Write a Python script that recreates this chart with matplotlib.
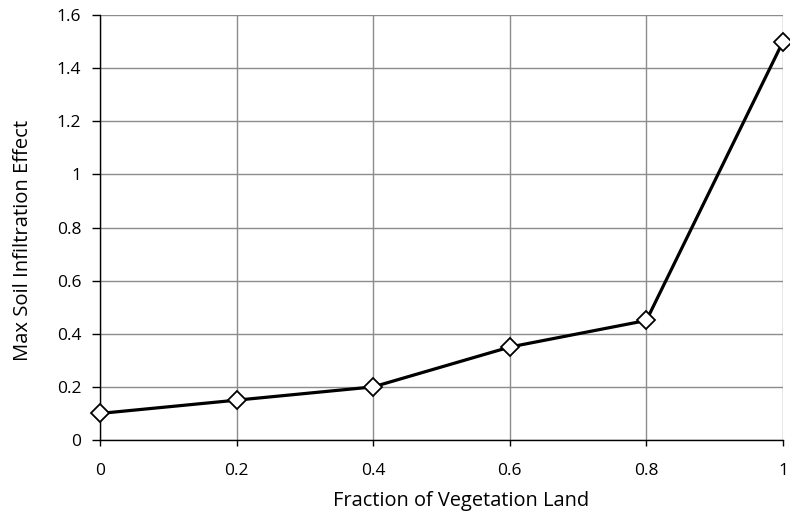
import matplotlib
matplotlib.use("Agg")
import matplotlib.pyplot as plt

fraction = [0, 0.2, 0.4, 0.6, 0.8, 1.0]
effect = [0.1, 0.15, 0.2, 0.35, 0.45, 1.5]
x_ticks = [0, 0.2, 0.4, 0.6, 0.8, 1]
x_labels = ["0", "0.2", "0.4", "0.6", "0.8", "1"]
y_ticks = [0, 0.2, 0.4, 0.6, 0.8, 1.0, 1.2, 1.4, 1.6]
y_labels = ["0", "0.2", "0.4", "0.6", "0.8", "1", "1.2", "1.4", "1.6"]

plt.rcParams['font.family'] = ['Open Sans', 'DejaVu Sans']

fig = plt.figure(figsize=(7.9, 5.14), dpi=100)
ax = fig.add_axes([100/790, 1-440/514, 683/790, 425/514])

ax.plot(fraction, effect, color='black', linewidth=2.3, marker='D', markersize=9,
        markerfacecolor='white', markeredgecolor='black', markeredgewidth=1.3,
        clip_on=False, zorder=3)

ax.set_xlim(0, 1)
ax.set_ylim(0, 1.6)
ax.set_xticks(x_ticks)
ax.set_xticklabels(x_labels)
ax.set_yticks(y_ticks)
ax.set_yticklabels(y_labels)
ax.grid(True, color='#8c8c8c', linewidth=1.0)
ax.set_axisbelow(True)
for s in ['top', 'right']:
    ax.spines[s].set_visible(False)
for s in ['left', 'bottom']:
    ax.spines[s].set_color('black')
    ax.spines[s].set_linewidth(1.0)
ax.tick_params(axis='both', direction='out', width=1, colors='black', labelsize=12.5)
ax.tick_params(axis='x', length=4.5, pad=12)
ax.tick_params(axis='y', length=5.5, pad=8)
ax.set_xlabel("Fraction of Vegetation Land", fontsize=14.4)
ax.set_ylabel("Max Soil Infiltration Effect", fontsize=14.6)
ax.xaxis.set_label_coords(361/683, -0.12)
ax.yaxis.set_label_coords(-0.098, 0.469)

fig.savefig("out.png", dpi=100)
